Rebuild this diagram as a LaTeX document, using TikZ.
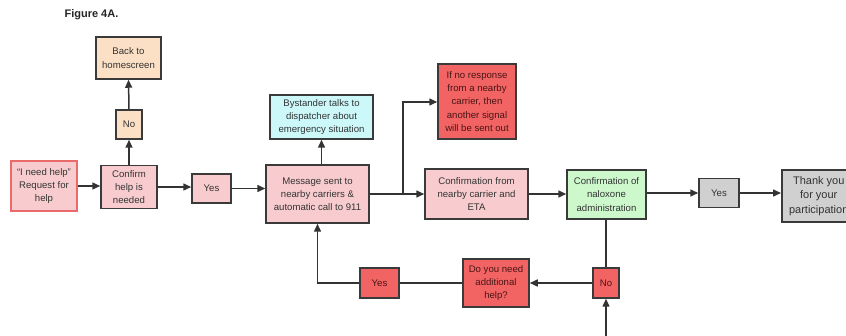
\documentclass[tikz,border=0pt]{standalone}
\usepackage{fontspec}
\setmainfont{Liberation Sans}
\usetikzlibrary{arrows.meta}
\definecolor{peach}{HTML}{FCE0C6}
\definecolor{pinkf}{HTML}{F8CCCE}
\definecolor{pinkb}{HTML}{E86A6A}
\definecolor{cyanf}{HTML}{CCF8FA}
\definecolor{redf}{HTML}{F26464}
\definecolor{greenf}{HTML}{CCF8CC}
\definecolor{grayf}{HTML}{D0D0D0}
\definecolor{edge}{HTML}{3A3A3A}
\definecolor{txt}{HTML}{333333}
\definecolor{redtxt}{HTML}{4A1414}
\tikzset{
  box/.style={draw=edge, line width=1.5pt, inner sep=0pt, align=center, text=txt,
    font=\fontsize{9.6}{13.2}\selectfont},
  redbox/.style={box, fill=redf, text=redtxt},
  conn/.style={line width=1.5pt, draw=black!80},
  arr/.style={conn, -{Triangle[length=8pt,width=7pt]}},
}
\begin{document}
\begin{tikzpicture}[x=1pt,y=-1pt]
\useasboundingbox[fill=white] (0,0) rectangle (846,336);
\node[anchor=west, font=\bfseries\fontsize{11}{12}\selectfont, text=black!85] (title) at (61,15) {Figure 4A.};
\node[box, fill=peach, minimum width=65pt, minimum height=42pt] (back) at (128.5,58) {Back to\\homescreen};
\node[box, fill=peach, minimum width=26pt, minimum height=29pt] (no1) at (129,124.5) {No};
\node[box, fill=pinkf, draw=pinkb, minimum width=66pt, minimum height=50pt] (need) at (44,186) {``I need help''\\Request for\\help};
\node[box, fill=pinkf, minimum width=56pt, minimum height=43pt] (confirm) at (129,187) {Confirm\\help is\\needed};
\node[box, fill=pinkf, minimum width=39pt, minimum height=29pt] (yes1) at (211.5,188.5) {Yes};
\node[box, fill=pinkf, minimum width=103pt, minimum height=58pt] (msg) at (317.5,194) {Message sent to\\nearby carriers \&\\automatic call to 911};
\node[box, fill=cyanf, minimum width=103pt, minimum height=44pt] (bys) at (321.5,117) {Bystander talks to\\dispatcher about\\emergency situation};
\node[redbox, minimum width=78pt, minimum height=75pt] (resend) at (477,101.5) {If no response\\from a nearby\\carrier, then\\another signal\\will be sent out};
\node[box, fill=pinkf, minimum width=103pt, minimum height=50pt] (carrier) at (476.5,194) {Confirmation from\\nearby carrier and\\ETA};
\node[box, fill=greenf, minimum width=79pt, minimum height=49pt] (nalox) at (606.5,194.5) {Confirmation of\\naloxone\\administration};
\node[box, fill=grayf, minimum width=40pt, minimum height=29pt] (yes2) at (719,193) {Yes};
\node[box, fill=grayf, minimum width=74pt, minimum height=52pt, font=\fontsize{11}{14.5}\selectfont, anchor=west] (thanks) at (781,196) {Thank you\\for your\\participation};
\node[redbox, minimum width=39pt, minimum height=30pt] (yes3) at (379.5,283) {Yes};
\node[redbox, minimum width=66pt, minimum height=48pt] (addl) at (496,283) {Do you need\\additional\\help?};
\node[redbox, minimum width=26pt, minimum height=30pt] (no2) at (606,283) {No};
\coordinate (bottom) at (606,340);
\coordinate (split) at (403,194);
% connectors
\draw[arr] (need.east) -- (need.east -| confirm.west);
\draw[arr] (confirm.north) -- (no1.south);
\draw[arr] (no1.north) -- (back.south);
\draw[arr] (confirm.east) -- (confirm.east -| yes1.west);
\draw[arr] (yes1.east) -- (yes1.east -| msg.west);
\draw[arr] (msg.north -| bys.south) -- (bys.south);
\draw[arr] (msg.east |- split) -- (split -| carrier.west);
\draw[arr] (split) |- (resend.west |- 0,102);
\draw[arr] (carrier.east) -- (carrier.east -| nalox.west);
\draw[arr] (nalox.east |- yes2) -- (yes2.west);
\draw[arr] (yes2.east) -- (yes2.east -| thanks.west);
\draw[conn] (nalox.south -| no2.north) -- (no2.north);
\draw[arr] (bottom) -- (no2.south);
\draw[arr] (no2.west) -- (addl.east);
\draw[conn] (addl.west) -- (yes3.east);
\draw[arr] (yes3.west) -| (msg.south);
\end{tikzpicture}
\end{document}
